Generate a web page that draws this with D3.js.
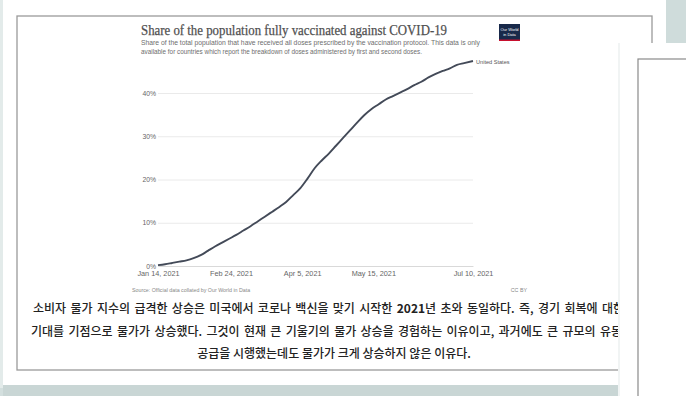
<!DOCTYPE html>
<html>
<head>
<meta charset="utf-8">
<script src="https://cdn.jsdelivr.net/npm/d3@7"></script>
<style>
body { margin: 0; background: #d6e2e1; }
svg { display: block; }
</style>
</head>
<body>
<svg id="id-grafico" width="686" height="396"></svg>
<script>
// Datos (porcentaje de población con pauta completa)
const fechas = ["2021-01-14","2021-01-18","2021-01-22","2021-01-26","2021-01-30","2021-02-03","2021-02-07",
    "2021-02-11","2021-02-15","2021-02-19","2021-02-23","2021-02-27","2021-03-03","2021-03-07","2021-03-11",
    "2021-03-15","2021-03-19","2021-03-23","2021-03-27","2021-03-31","2021-04-04","2021-04-08","2021-04-12",
    "2021-04-16","2021-04-20","2021-04-24","2021-04-28","2021-05-02","2021-05-06","2021-05-10","2021-05-14",
    "2021-05-18","2021-05-22","2021-05-26","2021-05-30","2021-06-03","2021-06-07","2021-06-11","2021-06-15",
    "2021-06-19","2021-06-23","2021-06-27","2021-07-01","2021-07-05","2021-07-10"];
const valores = [0.2, 0.4, 0.7, 1.0, 1.3, 1.8, 2.5,
    3.5, 4.5, 5.4, 6.3, 7.2, 8.2, 9.2, 10.3,
    11.4, 12.5, 13.6, 14.8, 16.4, 18.0, 20.2, 22.6,
    24.4, 26.0, 27.8, 29.6, 31.4, 33.2, 34.9, 36.3,
    37.4, 38.5, 39.3, 40.1, 40.9, 41.8, 42.6, 43.6,
    44.4, 45.1, 45.7, 46.5, 46.9, 47.4];
const ticksX = ["2021-01-14","2021-02-24","2021-04-05","2021-05-15","2021-07-10"];
const ticksY = [0, 10, 20, 30, 40];
const pais = "United States";

const titulo = "Share of the population fully vaccinated against COVID-19";
const subtitulo = [
    "Share of the total population that have received all doses prescribed by the vaccination protocol. This data is only",
    "available for countries which report the breakdown of doses administered by first and second doses."
];
const fuente = "Source: Official data collated by Our World in Data";
const licencia = "CC BY";
const parrafo = [
    ["소비자 물가 지수의 급격한 상승은 미국에서 코로나 백신을 맞기 시작한 ", "2021", "년 초와 동일하다. 즉, 경기 회복에 대한"],
    ["기대를 기점으로 물가가 상승했다. 그것이 현재 큰 기울기의 물가 상승을 경험하는 이유이고, 과거에도 큰 규모의 유동성"],
    ["공급을 시행했는데도 물가가 크게 상승하지 않은 이유다."]
];

let svg = d3.select("#id-grafico");
let parseFecha = d3.timeParse("%Y-%m-%d");
let datos = fechas.map((f, i) => ({ fecha: parseFecha(f), valor: valores[i] }));
let sans = "Liberation Sans, Arial, sans-serif";

// Fondo y páginas
svg.append("rect").attr("width", 686).attr("height", 396).attr("fill", "#d3dfde");
svg.append("rect").attr("x", 0).attr("y", 0).attr("width", 3).attr("height", 388).attr("fill", "#e3ebea");
svg.append("rect").attr("x", 3).attr("y", 0).attr("width", 663).attr("height", 385).attr("fill", "#fff");
svg.append("rect").attr("x", 3).attr("y", 385).attr("width", 619).attr("height", 11).attr("fill", "#c9d6d5");
svg.append("rect").attr("x", 17).attr("y", 16).attr("width", 635).attr("height", 354)
    .attr("fill", "none").attr("stroke", "#9a9a9a").attr("stroke-width", 1.3);

// Escalas
let x = d3.scaleTime()
    .domain([parseFecha("2021-01-14"), parseFecha("2021-07-10")])
    .range([158, 473]);
let y = d3.scaleLinear()
    .domain([0, 40])
    .range([266, 93]);

// Rejilla y eje Y
let ejeY = svg.append("g")
    .attr("transform", "translate(158,0)")
    .call(d3.axisLeft(y).tickValues(ticksY).tickSize(-315).tickPadding(2).tickFormat(d => d + "%"));
ejeY.select(".domain").remove();
ejeY.selectAll("line").attr("stroke", "#e4e4e4").attr("stroke-width", 0.8);
ejeY.selectAll("text").attr("fill", "#666").attr("font-family", sans).attr("font-size", "6.8px");

// Eje X
let ejeX = svg.append("g")
    .attr("transform", "translate(0,266)")
    .call(d3.axisBottom(x).tickValues(ticksX.map(parseFecha)).tickSize(0).tickPadding(5)
        .tickFormat(d3.timeFormat("%b %-d, %Y")));
ejeX.select(".domain").attr("stroke", "#d4d4d4").attr("stroke-width", 0.8);
ejeX.selectAll("text").attr("fill", "#666").attr("font-family", sans).attr("font-size", "7.3px");

// Línea
let linea = d3.line()
    .x(d => x(d.fecha))
    .y(d => y(d.valor))
    .curve(d3.curveMonotoneX);
svg.append("path")
    .datum(datos)
    .attr("d", linea)
    .attr("fill", "none")
    .attr("stroke", "#434a58")
    .attr("stroke-width", 1.9);

let ultimo = datos[datos.length - 1];
svg.append("text")
    .attr("x", x(ultimo.fecha) + 3)
    .attr("y", y(ultimo.valor) + 3)
    .text(pais)
    .attr("fill", "#555").attr("font-family", sans).attr("font-size", "5.6px");

// Títulos
svg.append("text")
    .attr("x", 141).attr("y", 35)
    .text(titulo)
    .attr("textLength", 306).attr("lengthAdjust", "spacingAndGlyphs")
    .attr("fill", "#505050").attr("font-family", "Liberation Serif, serif").attr("font-size", "14.5px")
    .attr("stroke", "#505050").attr("stroke-width", 0.25);

let anchosSub = [339, 281];
svg.selectAll(".subtitulo")
    .data(subtitulo)
    .enter()
    .append("text")
    .attr("class", "subtitulo")
    .attr("x", 141)
    .attr("y", (d, i) => 45 + i * 9)
    .attr("textLength", (d, i) => anchosSub[i]).attr("lengthAdjust", "spacingAndGlyphs")
    .text(d => d)
    .attr("fill", "#6e6e6e").attr("font-family", sans).attr("font-size", "6.8px");

// Logo
svg.append("rect").attr("x", 499).attr("y", 24).attr("width", 21).attr("height", 17).attr("fill", "#18294a");
svg.append("rect").attr("x", 499).attr("y", 39.5).attr("width", 21).attr("height", 1.5).attr("fill", "#c8102e");
svg.append("text").attr("x", 509.5).attr("y", 31).attr("text-anchor", "middle").text("Our World")
    .attr("fill", "#fff").attr("font-family", sans).attr("font-size", "4px");
svg.append("text").attr("x", 509.5).attr("y", 36).attr("text-anchor", "middle").text("in Data")
    .attr("fill", "#fff").attr("font-family", sans).attr("font-size", "4px");

// Fuente
svg.append("text").attr("x", 132).attr("y", 292).text(fuente)
    .attr("fill", "#888").attr("font-family", sans).attr("font-size", "5.3px");
svg.append("text").attr("x", 527).attr("y", 292).attr("text-anchor", "end").text(licencia)
    .attr("fill", "#888").attr("font-family", sans).attr("font-size", "5.3px");

// Párrafo en coreano (justificado, la última línea centrada)
let posX = [33, 31, 334];
let finX = [624, 633, null];
let baseY = [313, 336, 358];
parrafo.forEach(function(partes, i) {
    let t = svg.append("text")
        .attr("x", posX[i])
        .attr("y", baseY[i])
        .attr("text-anchor", finX[i] ? "start" : "middle")
        .attr("fill", "#222")
        .attr("font-family", "Noto Sans CJK KR, sans-serif")
        .attr("font-weight", 500)
        .attr("font-size", "12px");
    partes.forEach(function(p) {
        t.append("tspan").text(p).attr("font-weight", /^\d+$/.test(p) ? "bold" : 500);
    });
    if (finX[i]) {
        let natural = t.node().getComputedTextLength();
        let espacios = partes.join("").split(" ").length - 1;
        let extra = (finX[i] - posX[i] - natural) / espacios;
        t.attr("word-spacing", extra + "px");
    }
});

// Segunda página superpuesta
svg.append("rect").attr("x", 666).attr("y", 0).attr("width", 20).attr("height", 43).attr("fill", "#cfdcdb");
svg.append("rect").attr("x", 620).attr("y", 43).attr("width", 66).attr("height", 353).attr("fill", "#fff");
svg.append("rect").attr("x", 618).attr("y", 43).attr("width", 2).attr("height", 353).attr("fill", "#f1f4f4");
svg.append("rect").attr("x", 638).attr("y", 59).attr("width", 60).attr("height", 360)
    .attr("fill", "none").attr("stroke", "#8a8a8a").attr("stroke-width", 1.2);
</script>
</body>
</html>
